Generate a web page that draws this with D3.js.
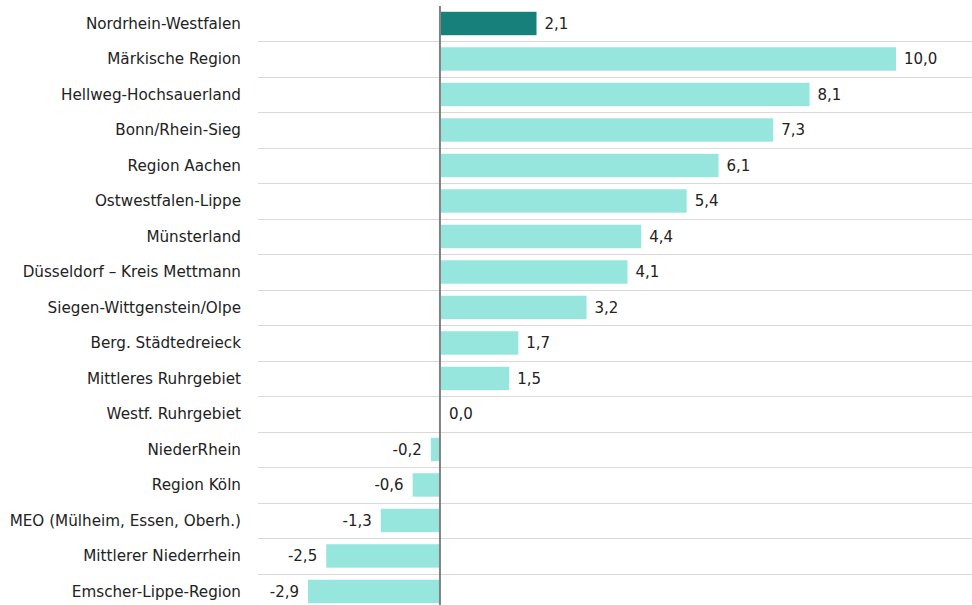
<!DOCTYPE html>
<html><head><meta charset="utf-8">
<script src="https://cdn.jsdelivr.net/npm/d3@7"></script>
<style>body{margin:0;background:#fff}svg{display:block}</style>
</head><body>
<svg id="c" width="972" height="605"></svg>
<script>
const categories = ["Nordrhein-Westfalen","Märkische Region","Hellweg-Hochsauerland","Bonn/Rhein-Sieg","Region Aachen","Ostwestfalen-Lippe","Münsterland","Düsseldorf – Kreis Mettmann","Siegen-Wittgenstein/Olpe","Berg. Städtedreieck","Mittleres Ruhrgebiet","Westf. Ruhrgebiet","NiederRhein","Region Köln","MEO (Mülheim, Essen, Oberh.)","Mittlerer Niederrhein","Emscher-Lippe-Region"];
const values = [2.1,10.0,8.1,7.3,6.1,5.4,4.4,4.1,3.2,1.7,1.5,0.0,-0.2,-0.6,-1.3,-2.5,-2.9];
const highlight = ["Nordrhein-Westfalen"];

const svg = d3.select("#c");
const font = "'DejaVu Sans', Verdana, sans-serif";
const x = d3.scaleLinear().domain([-2.9, 10.0]).range([308, 895]);
const y = d3.scaleBand().domain(categories).range([5.75, 609.2]).paddingInner(0.34).paddingOuter(0.17);
const step = y.step();

// gridlines between rows
svg.append("g").selectAll("line").data(categories.slice(1)).join("line")
  .attr("x1", 258).attr("x2", 972)
  .attr("y1", d => Math.round(y(d) - y.paddingInner()*step/2) + 0.5)
  .attr("y2", d => Math.round(y(d) - y.paddingInner()*step/2) + 0.5)
  .attr("stroke", "#d9d9d9").attr("stroke-width", 1);

// bars
svg.append("g").selectAll("rect").data(categories).join("rect")
  .attr("x", (d,i) => Math.min(x(0), x(values[i])) + (values[i] >= 0 ? 1 : 0))
  .attr("width", (d,i) => Math.abs(x(values[i]) - x(0)))
  .attr("y", d => y(d)).attr("height", y.bandwidth())
  .attr("fill", d => highlight.includes(d) ? "#18807a" : "#96e6de");

// zero axis
svg.append("line").attr("x1", x(0)).attr("x2", x(0)).attr("y1", 6).attr("y2", 605)
  .attr("stroke", "#808080").attr("stroke-width", 2);

// value labels
const fmt = v => d3.format(".1f")(v).replace(".", ",").replace("−","-");
svg.append("g").selectAll("text").data(categories).join("text")
  .attr("x", (d,i) => values[i] >= 0 ? x(values[i]) + 9 : x(values[i]) - 9)
  .attr("y", d => y(d) + y.bandwidth()/2)
  .attr("dy", "0.36em")
  .attr("text-anchor", (d,i) => values[i] >= 0 ? "start" : "end")
  .attr("font-family", font).attr("font-size", 15).attr("fill", "#222")
  .text((d,i) => fmt(values[i]));

// category labels
svg.append("g").selectAll("text").data(categories).join("text")
  .attr("x", 241)
  .attr("y", d => y(d) + y.bandwidth()/2)
  .attr("dy", "0.36em")
  .attr("text-anchor", "end")
  .attr("font-family", font).attr("font-size", 15.2).attr("fill", "#222")
  .text(d => d);
</script>
</body></html>
